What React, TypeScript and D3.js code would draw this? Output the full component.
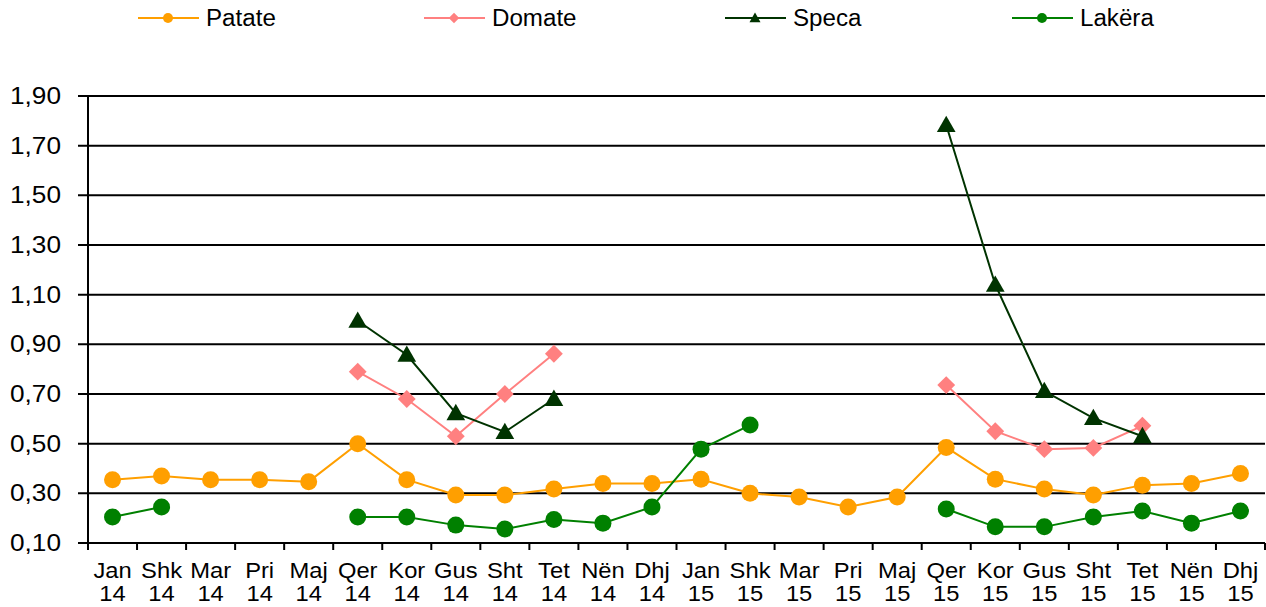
import React from 'react';
import * as d3 from 'd3';

const months = ['Jan', 'Shk', 'Mar', 'Pri', 'Maj', 'Qer', 'Kor', 'Gus', 'Sht', 'Tet', 'Nën', 'Dhj'];
const years = ['14', '15'];
const categories = years.flatMap(y => months.map(m => `${m} ${y}`));

const yTicks = [0.1, 0.3, 0.5, 0.7, 0.9, 1.1, 1.3, 1.5, 1.7, 1.9];

const patate = [0.355, 0.37, 0.355, 0.355, 0.347, 0.50, 0.355, 0.293, 0.293, 0.317, 0.34, 0.34,
  0.357, 0.30, 0.285, 0.245, 0.285, 0.485, 0.357, 0.317, 0.293, 0.333, 0.34, 0.38];
const domate = [null, null, null, null, null, 0.79, 0.68, 0.53, 0.70, 0.862, null, null,
  null, null, null, null, null, 0.736, 0.55, 0.478, 0.483, 0.572, null, null];
const speca = [null, null, null, null, null, 0.995, 0.858, 0.623, 0.547, 0.68, null, null,
  null, null, null, null, null, 1.783, 1.14, 0.712, 0.603, 0.53, null, null];
const lakera = [0.205, 0.245, null, null, null, 0.205, 0.205, 0.172, 0.156, 0.195, 0.18, 0.245,
  0.478, 0.575, null, null, null, 0.237, 0.165, 0.165, 0.205, 0.229, 0.18, 0.229];

const series = [
  { name: 'Patate', values: patate, color: '#FF9F00', shape: 'circle', lx: 138 },
  { name: 'Domate', values: domate, color: '#FF8080', shape: 'diamond', lx: 424 },
  { name: 'Speca', values: speca, color: '#003300', shape: 'triangle', lx: 725 },
  { name: 'Lakëra', values: lakera, color: '#008000', shape: 'circle', lx: 1012 },
];

const W = 1266;
const H = 607;
const margin = { top: 96, right: 1, bottom: 64, left: 88 };
const font = '"Liberation Sans", Arial, sans-serif';

// text stretched a little horizontally, like the reference
function T({ x, y, size, sx, anchor, children }: { x: number; y: number; size: number; sx: number; anchor?: string; children: any }) {
  return (
    <text transform={`translate(${x},${y}) scale(${sx},1)`} textAnchor={anchor || 'start'}
      fontFamily={font} fontSize={size} fill="#000">{children}</text>
  );
}

function Marker({ shape, x, y, color, s }: { shape: string; x: number; y: number; color: string; s: number }) {
  if (shape === 'circle') return <circle cx={x} cy={y} r={s} fill={color} />;
  if (shape === 'diamond') {
    const d = s * 1.05;
    return <path d={`M${x},${y - d}L${x + d},${y}L${x},${y + d}L${x - d},${y}Z`} fill={color} />;
  }
  const h = s * 1.1;
  return <path d={`M${x},${y - h}L${x + h},${y + h * 0.75}L${x - h},${y + h * 0.75}Z`} fill={color} />;
}

export default function App() {
  const x = d3.scaleBand().domain(categories).range([margin.left, W - margin.right]);
  const y = d3.scaleLinear().domain([0.1, 1.9]).range([H - margin.bottom, margin.top]);
  const y0 = y(0.1);
  const cx = (i: number) => (x(categories[i]) as number) + x.bandwidth() / 2;

  const line = d3.line<number | null>()
    .defined(d => d !== null)
    .x((_, i) => cx(i))
    .y(d => y(d as number));

  return (
    <svg width={W} height={H} style={{ position: 'absolute', left: 0, top: 0, background: '#fff' }}>
      {/* legend */}
      {series.map(s => (
        <g key={s.name}>
          <line x1={s.lx} x2={s.lx + 61} y1={18} y2={18} stroke={s.color} strokeWidth={2} />
          <Marker shape={s.shape} x={s.lx + 30} y={18} color={s.color} s={5} />
          <T x={s.lx + 68} y={26} size={23} sx={1.05}>{s.name}</T>
        </g>
      ))}

      {/* grid + y labels */}
      {yTicks.map(t => (
        <g key={t}>
          <line x1={margin.left - 10} x2={W - margin.right} y1={y(t)} y2={y(t)} stroke="#000" strokeWidth={2} />
          <T x={61} y={y(t) + 8} size={23} sx={1.14} anchor="end">
            {d3.format('.2f')(t).replace('.', ',')}
          </T>
        </g>
      ))}
      <line x1={margin.left} x2={margin.left} y1={y(1.9)} y2={y0 + 7} stroke="#000" strokeWidth={2} />

      {/* x ticks + labels */}
      {d3.range(categories.length + 1).map(i => {
        const xx = margin.left + i * x.bandwidth();
        return <line key={i} x1={xx} x2={xx} y1={y0} y2={y0 + 7} stroke="#000" strokeWidth={2} />;
      })}
      {categories.map((c, i) => {
        const [m, yr] = c.split(' ');
        return (
          <g key={c}>
            <T x={cx(i)} y={578} size={22} sx={1.08} anchor="middle">{m}</T>
            <T x={cx(i)} y={601} size={22} sx={1.08} anchor="middle">{yr}</T>
          </g>
        );
      })}

      {/* series */}
      {series.map(s => (
        <g key={s.name}>
          <path d={line(s.values) || ''} fill="none" stroke={s.color} strokeWidth={2} />
          {s.values.map((v, i) => v === null ? null : (
            <Marker key={i} shape={s.shape} x={cx(i)} y={y(v)} color={s.color} s={8.5} />
          ))}
        </g>
      ))}
    </svg>
  );
}
